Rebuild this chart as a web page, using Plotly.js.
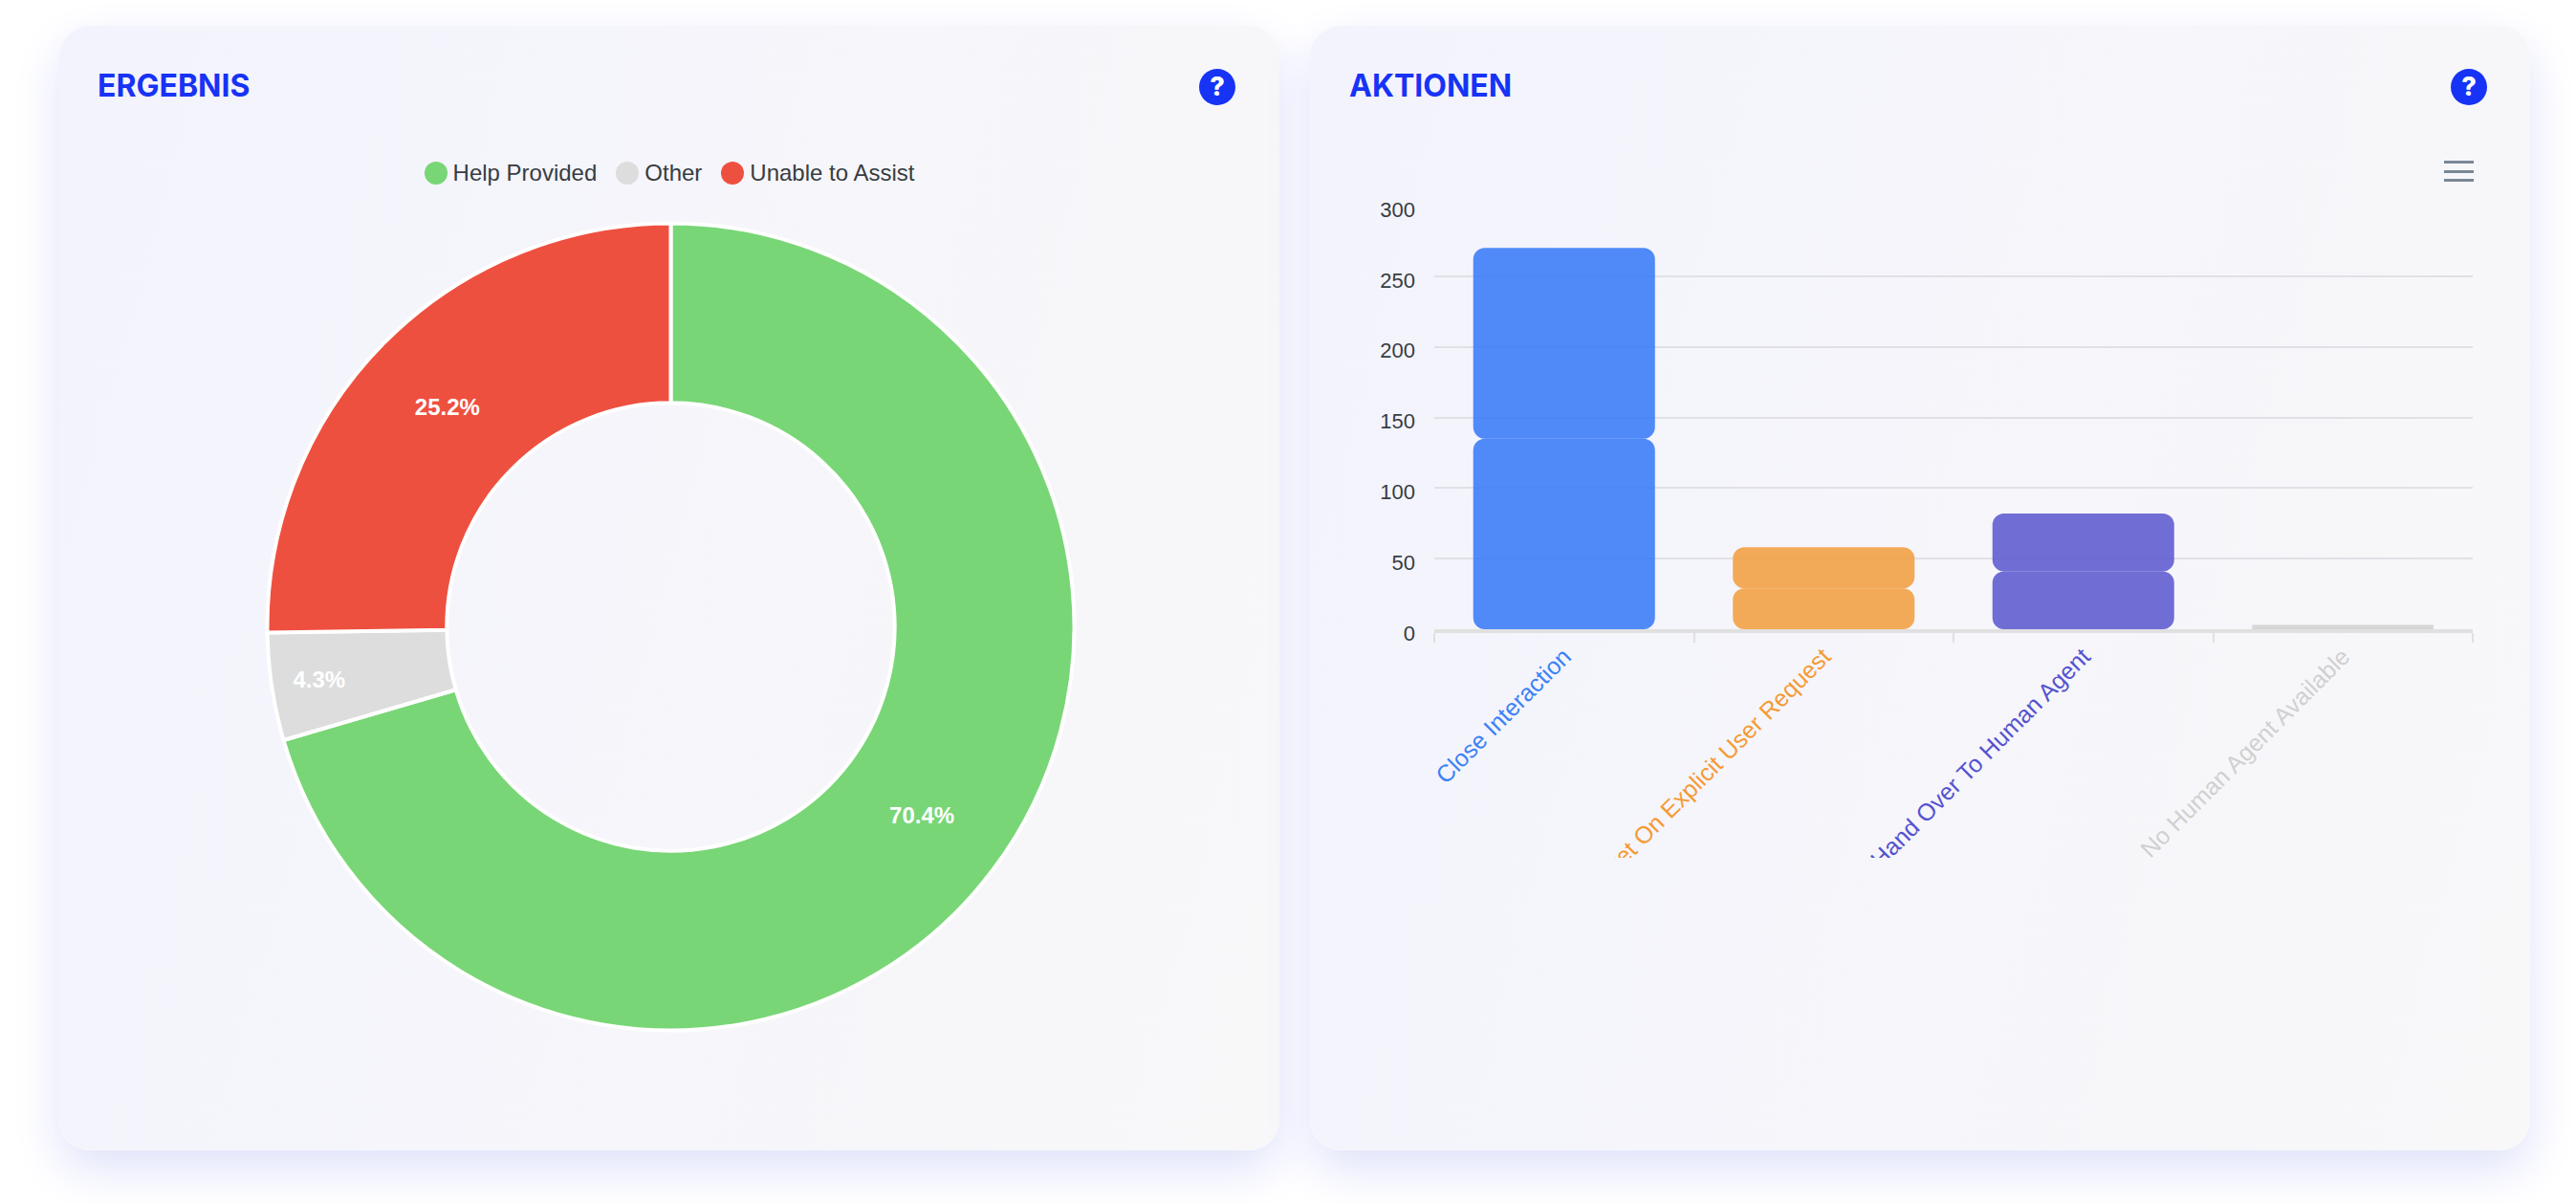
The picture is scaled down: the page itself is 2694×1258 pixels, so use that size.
<!DOCTYPE html>
<html><head><meta charset="utf-8">
<script src="https://cdn.plot.ly/plotly-3.0.1.min.js"></script>
<style>
html,body{margin:0;padding:0;background:#fff;width:2694px;height:1258px;overflow:hidden}
.card{position:absolute;top:27px;width:1276px;height:1176px;border-radius:32px;
 background:linear-gradient(105deg,#f3f3fd 0%,#f8f8f9 100%);box-shadow:0 20px 50px #dfe2fa}
#c1{left:62px}#c2{left:1370px}
.title{position:absolute;top:45px;font:700 32px Inter,sans-serif;color:#1733f5;line-height:36px;letter-spacing:0}
.help{position:absolute;top:45px;width:38px;height:38px;border-radius:50%;background:#1733f5;color:#fff;
 font:800 27px/38px Inter,sans-serif;text-align:center}
.legend{position:absolute;top:142px;left:0;width:100%;display:flex;justify-content:center;align-items:center;
 font:24px "Liberation Sans",sans-serif;color:#373d3f;height:24px}
.legend i{display:block;width:24px;height:24px;border-radius:50%;margin-right:6px}
.legend span{margin-right:20px}.legend span:last-child{margin-right:0}
.menu{position:absolute;left:1186px;top:141px;width:31px;height:22px;
 border-top:3px solid #7a8796;border-bottom:3px solid #7a8796;box-sizing:border-box}
.menu:after{content:"";position:absolute;left:0;right:0;top:6.5px;height:3px;background:#7a8796}
.plot{position:absolute;left:0;top:0}
</style></head><body>
<div class="card" id="c1">
  <div class="plot" id="pie"></div>
  <div class="title" style="left:40px">ERGEBNIS</div>
  <div class="help" style="left:1192px">?</div>
  <div class="legend" id="legend"></div>
</div>
<div class="card" id="c2">
  <div class="plot" id="bars"></div>
  <div class="title" style="left:41px">AKTIONEN</div>
  <div class="help" style="left:1193px">?</div>
  <div class="menu"></div>
</div>
<script>
const outcomeLabels = ["Help Provided", "Other", "Unable to Assist"];
const outcomeShares = [70.4, 4.3, 25.2];
const outcomeText = ["70.4%", "4.3%", "25.2%"];
const outcomeColors = ["#78d676", "#dddddd", "#ee5040"];

const actionNames = ["Close Interaction", "Create Ticket On Explicit User Request", "Hand Over To Human Agent", "No Human Agent Available"];
const actionCounts = [270, 58, 82, 3];
const actionColors = ["#3377f7", "#f29c3b", "#5855ce", "#cfcfcf"];
const actionTextColors = ["#3b82f6", "#f59a33", "#5552d0", "#d0d0d0"];
const countTicks = [0, 50, 100, 150, 200, 250, 300];

const SANS = '"Liberation Sans", Arial, sans-serif';
const legend = document.getElementById('legend');
outcomeLabels.forEach((l, i) => {
  const dot = document.createElement('i'); dot.style.background = outcomeColors[i];
  const t = document.createElement('span'); t.textContent = l;
  legend.append(dot, t);
});

// donut
const W1 = 1276, H1 = 1176, CX = 639.5, CY = 628.5, R = 422;
Plotly.newPlot('pie', [{
  type: 'pie', labels: outcomeLabels, values: outcomeShares, text: outcomeText,
  textinfo: 'text', textposition: 'inside', insidetextorientation: 'horizontal',
  insidetextfont: {family: SANS, size: 24, color: '#fff', weight: 700},
  marker: {colors: outcomeColors, line: {color: '#fff', width: 4}},
  hole: 0.555, sort: false, direction: 'clockwise', rotation: 0, showlegend: false,
  domain: {x: [(CX - R) / W1, (CX + R) / W1], y: [1 - (CY + R) / H1, 1 - (CY - R) / H1]}
}], {
  width: W1, height: H1, margin: {l: 0, r: 0, t: 0, b: 0},
  paper_bgcolor: 'rgba(0,0,0,0)', plot_bgcolor: 'rgba(0,0,0,0)', showlegend: false
}, {displayModeBar: false, staticPlot: true});

// bars: each bar is drawn as two halves meeting mid-height so both ends get rounded corners
const half = actionCounts.map(v => v / 2);
const barBase = {type: 'bar', x: actionNames, width: 0.7, showlegend: false, hoverinfo: 'skip',
  marker: {color: actionColors, opacity: 0.85, line: {width: 0}, cornerradius: 12}};
Plotly.newPlot('bars', [
  Object.assign({}, barBase, {base: half, y: half}),
  Object.assign({}, barBase, {base: half, y: half.map(v => -v)})
], {
  width: 1276, height: 870, margin: {l: 130, r: 60, t: 188, b: 239},
  paper_bgcolor: 'rgba(0,0,0,0)', plot_bgcolor: 'rgba(0,0,0,0)',
  barmode: 'overlay', showlegend: false, font: {family: SANS},
  xaxis: {type: 'category', range: [-0.5, 3.5], tickmode: 'array', tickvals: actionNames,
    ticktext: actionNames.map((n, i) => `<span style="color:${actionTextColors[i]}">${n}</span>`),
    tickangle: -45, tickson: 'boundaries', ticks: 'outside', ticklen: 10, tickwidth: 2, tickcolor: '#e0e0e0',
    showline: true, linecolor: '#e0e0e0', linewidth: 4, showgrid: false, zeroline: false,
    tickfont: {family: SANS, size: 25}, automargin: false},
  yaxis: {range: [0, 300], tickmode: 'array', tickvals: countTicks, showgrid: true, gridcolor: '#e0e0e6', gridwidth: 2,
    zeroline: false, showline: false, ticks: '', tickfont: {family: SANS, size: 22, color: '#373d3f'},
    ticklabelstandoff: 19, ticklabelshift: 4, automargin: false}
}, {displayModeBar: false, staticPlot: true});
</script>
</body></html>
